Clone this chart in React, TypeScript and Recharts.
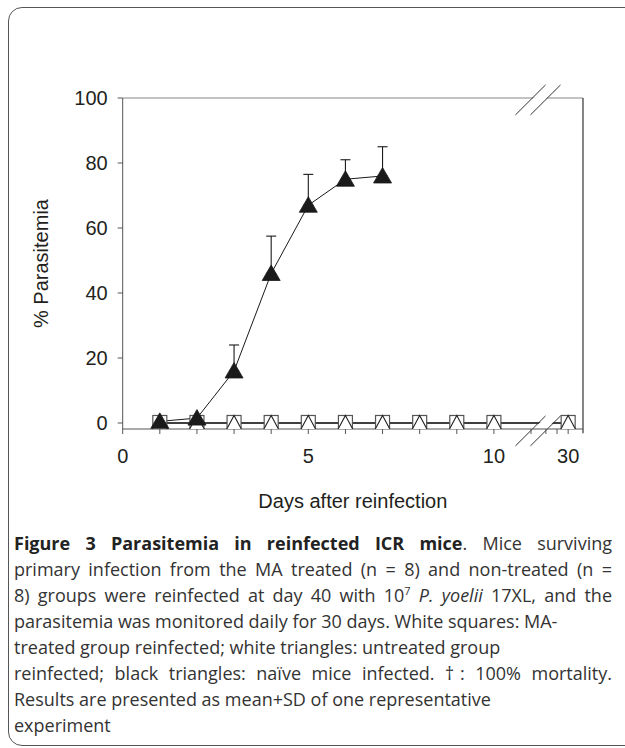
import React from 'react';
import {
    ComposedChart,
    Line,
    XAxis,
    YAxis,
    ErrorBar,
    ReferenceLine
} from 'recharts';

// days of observation after reinfection (axis is broken between 11 and 28)
const days = [1, 2, 3, 4, 5, 6, 7, 8, 9, 10, 30];
// white squares: MA-treated group reinfected
const maTreated = [0, 0, 0, 0, 0, 0, 0, 0, 0, 0, 0];
// white triangles: untreated group reinfected
const untreated = [0, 0, 0, 0, 0, 0, 0, 0, 0, 0, 0];
// black triangles: naive mice infected (all dead after day 7)
const naive = [0.5, 1.5, 16, 46, 67, 75, 76, null, null, null, null];
const naiveSD = [0, 0, 8, 11.5, 9.5, 6, 9, null, null, null, null];

const labelDays = [0, 5, 10, 30];
const minorDays = [0, 1, 2, 3, 4, 5, 6, 7, 8, 9, 10, 11, 28, 29, 30];
const yTicks = [0, 20, 40, 60, 80, 100];

// broken x scale: linear up to day 11, compressed segment for days 28-30
const BREAK_END = 11;
const xPos = (d: number) => (d <= BREAK_END ? d : 12 - (30 - d) * 0.3);
const X_MAX = 12.4;
const Y_MIN = -1.85;

const data = days.map((d, i) => ({
    x: xPos(d),
    day: d,
    maTreated: maTreated[i],
    untreated: untreated[i],
    naive: naive[i],
    naiveErr: naiveSD[i] == null ? undefined : [0, naiveSD[i]]
}));

const tickLabel = (v: number) => {
    const d = labelDays.find((ld) => Math.abs(xPos(ld) - v) < 1e-6);
    return d === undefined ? '' : String(d);
};

const SquareDot = (props: any) => {
    const { cx, cy, index } = props;
    if (cx == null || cy == null) return <g key={`sq-${index}`} />;
    return (
        <rect key={`sq-${index}`} x={cx - 7} y={cy - 7.5} width={14} height={15}
            fill="#fff" stroke="#555" strokeWidth={1.2} />
    );
};

const OpenTriangle = (props: any) => {
    const { cx, cy, index } = props;
    if (cx == null || cy == null) return <g key={`ot-${index}`} />;
    return (
        <polygon key={`ot-${index}`}
            points={`${cx},${cy - 7.5} ${cx + 7.5},${cy + 6.5} ${cx - 7.5},${cy + 6.5}`}
            fill="#fff" stroke="#222" strokeWidth={1.1} />
    );
};

const BlackTriangle = (props: any) => {
    const { cx, cy, index } = props;
    if (cx == null || cy == null || props.value == null) return <g key={`bt-${index}`} />;
    return (
        <polygon key={`bt-${index}`}
            points={`${cx},${cy - 8.5} ${cx + 9},${cy + 7} ${cx - 9},${cy + 7}`}
            fill="#1a1a1a" stroke="#1a1a1a" strokeWidth={0.8} />
    );
};

// axis break marks (pairs of slashes with a white gap between)
const slashW = 0.81;
const slashH = 9.23;
const slashStart = 10.58;
const slashGap = 0.404;

const breakMarks = (yc: number, key: string) => {
    const y0 = yc - slashH / 2 - 0.6;
    const y1 = y0 + slashH;
    return [
        <ReferenceLine key={`${key}-w`} ifOverflow="visible"
            segment={[{ x: slashStart + slashGap / 2, y: y0 }, { x: slashStart + slashGap / 2 + slashW, y: y1 }]}
            stroke="#fff" strokeWidth={9} />,
        <ReferenceLine key={`${key}-a`} ifOverflow="visible"
            segment={[{ x: slashStart, y: y0 }, { x: slashStart + slashW, y: y1 }]}
            stroke="#333" strokeWidth={1} />,
        <ReferenceLine key={`${key}-b`} ifOverflow="visible"
            segment={[{ x: slashStart + slashGap, y: y0 }, { x: slashStart + slashGap + slashW, y: y1 }]}
            stroke="#333" strokeWidth={1} />
    ];
};

const axisFont = { fontFamily: '"Liberation Sans", Arial, sans-serif', fontSize: 20, fill: '#231f20' };

const fullLine = { width: 598, textAlign: 'justify' as const, textAlignLast: 'justify' as const };

export default function App() {
    return (
        <div style={{ position: 'absolute', left: 0, top: 0, width: 625, height: 748, overflow: 'hidden', background: '#fff' }}>
            <div style={{
                position: 'absolute', left: 8, top: 7, width: 700, height: 737,
                border: '1.5px solid #555', borderRadius: 14
            }} />
            <div style={{ position: 'absolute', left: 0, top: 0 }}>
                <ComposedChart width={625} height={560} data={data}
                    margin={{ top: 98, right: 42, left: 30, bottom: 21 }}>
                    <XAxis dataKey="x" type="number" domain={[0, X_MAX]} allowDataOverflow
                        ticks={minorDays.map(xPos)} tickFormatter={tickLabel} interval={0}
                        height={110} tickSize={5} tickMargin={15}
                        stroke="#555" tick={axisFont}
                        label={{ value: 'Days after reinfection', position: 'insideBottom', offset: 31, style: axisFont }} />
                    <YAxis type="number" domain={[Y_MIN, 100]} allowDataOverflow ticks={yTicks} interval={0}
                        width={92.7} tickSize={5} tickMargin={10} stroke="#555" tick={axisFont}
                        label={{ value: '% Parasitemia', angle: -90, position: 'insideLeft', offset: 11, style: { ...axisFont, textAnchor: 'middle' } }} />
                    <ReferenceLine y={100} stroke="#888" strokeWidth={1.2} />
                    <ReferenceLine ifOverflow="visible" segment={[{ x: X_MAX, y: Y_MIN - 1.3 }, { x: X_MAX, y: 100 }]}
                        stroke="#333" strokeWidth={1.2} />
                    <Line dataKey="maTreated" stroke="#333" strokeWidth={1.3} dot={SquareDot}
                        isAnimationActive={false} />
                    <Line dataKey="untreated" stroke="#333" strokeWidth={1.3} dot={OpenTriangle}
                        isAnimationActive={false} />
                    {breakMarks(Y_MIN, 'bottom')}
                    {breakMarks(100, 'top')}
                    <Line dataKey="naive" stroke="#1a1a1a" strokeWidth={1} dot={BlackTriangle}
                        connectNulls={false} isAnimationActive={false}>
                        <ErrorBar dataKey="naiveErr" direction="y" width={5} stroke="#1a1a1a" strokeWidth={1.1} />
                    </Line>
                </ComposedChart>
            </div>
            <div style={{
                position: 'absolute', left: 14, top: 530, whiteSpace: 'nowrap',
                fontFamily: '"Open Sans", "Noto Sans", sans-serif', fontSize: 18, lineHeight: '26px', color: '#333'
            }}>
                <div style={fullLine}><b style={{ color: '#222' }}>Figure 3 Parasitemia in reinfected ICR mice</b>. Mice surviving</div>
                <div style={fullLine}>primary infection from the MA treated (n = 8) and non-treated (n =</div>
                <div style={fullLine}>8) groups were reinfected at day 40 with 10<sup style={{ fontSize: 11, lineHeight: 0 }}>7</sup> <i>P. yoelii</i> 17XL, and the</div>
                <div>parasitemia was monitored daily for 30 days. White squares: MA-</div>
                <div>treated group reinfected; white triangles: untreated group</div>
                <div style={fullLine}>reinfected; black triangles: naïve mice infected. †: 100% mortality.</div>
                <div>Results are presented as mean+SD of one representative</div>
                <div>experiment</div>
            </div>
        </div>
    );
}
